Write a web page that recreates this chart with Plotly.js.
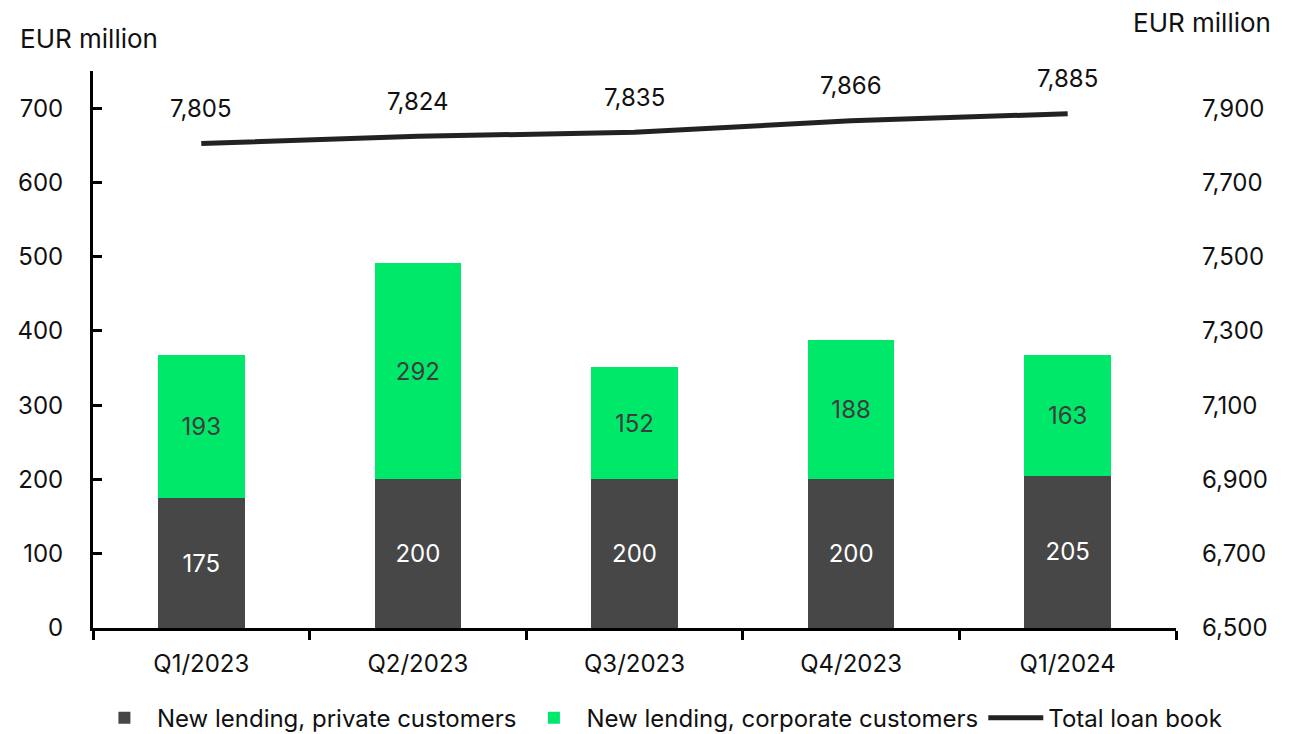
<!DOCTYPE html>
<html>
<head>
<meta charset="utf-8">
<script src="https://cdn.plot.ly/plotly-3.0.1.min.js"></script>
<style>html,body{margin:0;padding:0;background:#fff;}#chart{width:1302px;height:734px;}</style>
</head>
<body>
<div id="chart"></div>
<script>
const categories = ["Q1/2023", "Q2/2023", "Q3/2023", "Q4/2023", "Q1/2024"];
const privateLending = [175, 200, 200, 200, 205];
const corporateLending = [193, 292, 152, 188, 163];
const totalLoanBook = [7805, 7824, 7835, 7866, 7885];
const seriesNames = ["New lending, private customers", "New lending, corporate customers", "Total loan book"];
const unitLabel = "EUR million";

const FONT = "Inter, 'Noto Sans', Roboto, sans-serif";
const DARK = "#474747";
const GREEN = "#00E86A";
const FS = 24;

const traces = [
  {
    type: "bar", name: seriesNames[0], x: categories, y: privateLending,
    marker: {color: DARK}, width: 0.4,
    text: privateLending.map(String), textposition: "inside", insidetextanchor: "middle",
    textfont: {color: "#ffffff", size: FS, family: FONT}, hoverinfo: "skip"
  },
  {
    type: "bar", name: seriesNames[1], x: categories, y: corporateLending,
    marker: {color: GREEN}, width: 0.4,
    text: corporateLending.map(String), textposition: "inside", insidetextanchor: "middle",
    textfont: {color: "#3d3d3d", size: FS, family: FONT}, hoverinfo: "skip"
  },
  {
    type: "scatter", mode: "lines", name: seriesNames[2], x: categories, y: totalLoanBook,
    yaxis: "y2", line: {color: "#222222", width: 5}, hoverinfo: "skip"
  }
];

const annotations = totalLoanBook.map((v, i) => ({
  x: categories[i], y: v, xref: "x", yref: "y2",
  text: v.toLocaleString("en-US"), showarrow: false, yshift: 35,
  font: {size: FS, color: "#111", family: FONT}
}));
annotations.push({
  xref: "paper", yref: "paper", x: -0.069, y: 1.0, xanchor: "left", yanchor: "middle", yshift: 33,
  text: unitLabel, showarrow: false, font: {size: 26, color: "#111", family: FONT}
});
annotations.push({
  xref: "paper", yref: "paper", x: 1.0896, y: 1.0, xanchor: "right", yanchor: "middle", yshift: 49,
  text: unitLabel, showarrow: false, font: {size: 26, color: "#111", family: FONT}
});

const layout = {
  width: 1302, height: 734,
  margin: {l: 93, r: 126, t: 71, b: 106, autoexpand: false},
  paper_bgcolor: "#fff", plot_bgcolor: "#fff",
  font: {family: FONT, size: FS, color: "#111"},
  barmode: "stack",
  showlegend: true,
  legend: {orientation: "h", xref: "paper", yref: "paper", x: -0.001, xanchor: "left",
           y: -0.162, yanchor: "middle",
           font: {size: FS, family: FONT, color: "#111"}, itemwidth: 55, tracegroupgap: 0,
           traceorder: "normal"},
  xaxis: {
    type: "category", showgrid: false, zeroline: false,
    showline: true, linecolor: "#000", linewidth: 3,
    ticks: "outside", tickson: "boundaries", ticklen: 9, tickwidth: 3, tickcolor: "#000",
    tickfont: {size: FS, family: FONT, color: "#111"}, ticklabelstandoff: 12
  },
  yaxis: {
    range: [0, 750], tick0: 0, dtick: 100, showgrid: false, zeroline: false,
    showline: true, linecolor: "#000", linewidth: 3,
    ticks: "inside", ticklen: 9, tickwidth: 3, tickcolor: "#000",
    tickfont: {size: FS, family: FONT, color: "#111"}, ticklabelstandoff: 22
  },
  yaxis2: {
    overlaying: "y", side: "right", range: [6500, 8000], tick0: 6500, dtick: 200,
    tickformat: ",d", showgrid: false, zeroline: false, showline: false, ticks: "",
    tickfont: {size: FS, family: FONT, color: "#111"}, ticklabelstandoff: 25
  },
  annotations: annotations
};

Plotly.newPlot("chart", traces, layout, {displayModeBar: false, staticPlot: true});
</script>
</body>
</html>
